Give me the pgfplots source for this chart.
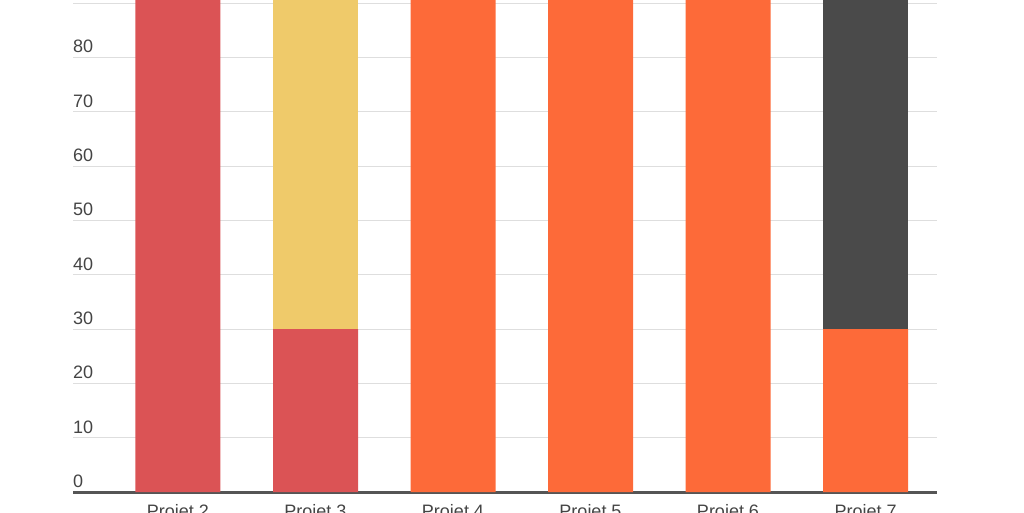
\documentclass[border=0pt]{standalone}
\usepackage{pgfplots}
\pgfplotsset{compat=1.18}
\usepackage{fontspec}
\setmainfont{Liberation Sans}

\definecolor{cRed}{HTML}{DB5355}
\definecolor{cYellow}{HTML}{EFCA6A}
\definecolor{cOrange}{HTML}{FD6A39}
\definecolor{cDark}{HTML}{4A4A4A}
\definecolor{cText}{HTML}{444444}
\definecolor{cGrid}{HTML}{DEDEDE}
\definecolor{cAxis}{HTML}{555555}

\begin{document}
\begin{tikzpicture}
\useasboundingbox (0pt,0pt) rectangle (1024pt,512pt);
\clip (0pt,0pt) rectangle (1024pt,512pt);
\begin{pgfinterruptboundingbox}
\begin{axis}[
    at={(73pt,20pt)}, anchor=south west,
    scale only axis,
    width=864pt, height=543.33pt,
    xmin=-0.7636, xmax=5.52,
    ymin=0, ymax=100,
    ybar stacked, bar width=85pt,
    axis x line*=bottom,
    axis y line*=left,
    x axis line style={cAxis, line width=3pt, -},
    y axis line style={draw=none, -},
    xtick={0,1,2,3,4,5},
    xticklabels={Projet 2, Projet 3, Projet 4, Projet 5, Projet 6, Projet 7},
    ytick={0,10,...,100},
    major tick length=0pt,
    ymajorgrids,
    grid style={cGrid, line width=1pt},
    /pgf/number format/assume math mode=true,
    tick label style={font=\fontsize{18}{20}\selectfont, text=cText},
    yticklabel style={anchor=south west, inner sep=0pt, xshift=0pt, yshift=4pt},
    xticklabel style={anchor=base, inner sep=0pt, yshift=-25pt},
    every axis plot/.append style={draw=none},
]
\addplot[fill=cRed] coordinates {(0,100) (1,30) (2,0) (3,0) (4,0) (5,0)};
\addplot[fill=cYellow] coordinates {(0,0) (1,70) (2,0) (3,0) (4,0) (5,0)};
\addplot[fill=cOrange] coordinates {(0,0) (1,0) (2,100) (3,100) (4,100) (5,30)};
\addplot[fill=cDark] coordinates {(0,0) (1,0) (2,0) (3,0) (4,0) (5,70)};
\end{axis}
\end{pgfinterruptboundingbox}
\end{tikzpicture}
\end{document}
